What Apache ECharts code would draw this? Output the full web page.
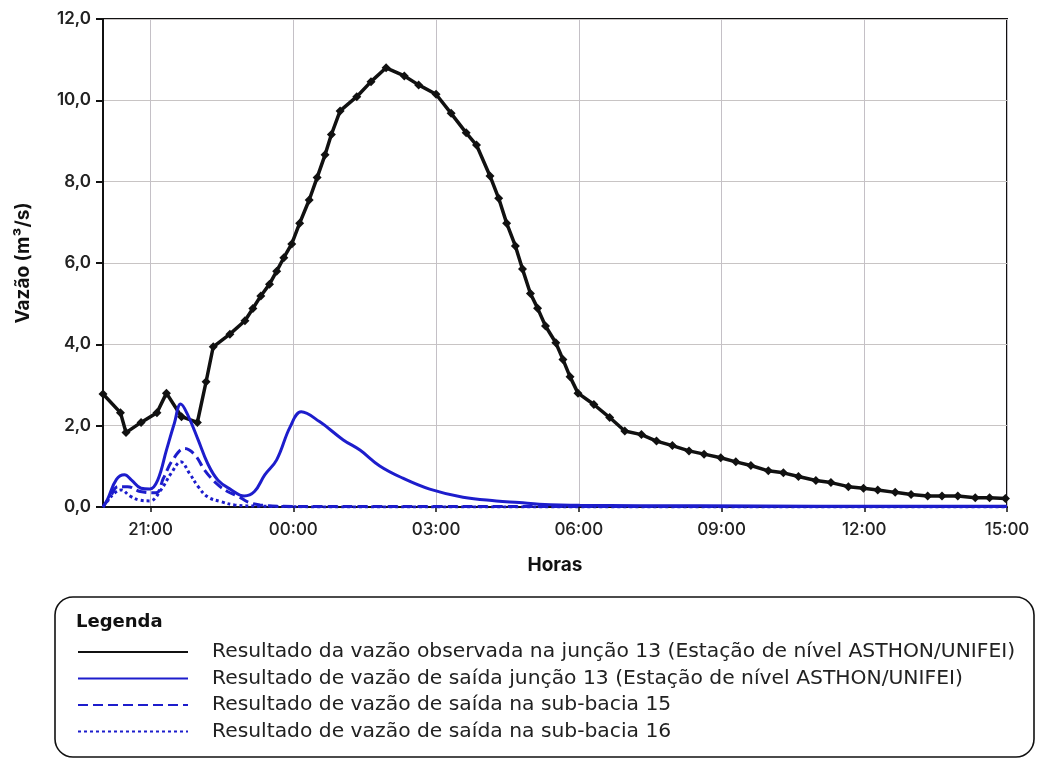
<!DOCTYPE html>
<html>
<head>
<meta charset="utf-8">
<title>Vazão – junção 13</title>
<script src="https://cdn.jsdelivr.net/npm/echarts@6/dist/echarts.min.js"></script>
<style>
  html, body { margin: 0; padding: 0; background: #fff; }
  #chart { width: 1044px; height: 766px; }
</style>
</head>
<body>
<div id="chart"></div>
<script>
// Time in minutes after 20:00 of the first day; flow in m³/s.
const obsMinutes = [0, 22, 29, 48, 68, 80, 99, 119, 130, 139, 160, 179, 189, 199, 210, 219, 228, 238, 248,
  260, 270, 280, 288, 299, 320, 338, 357, 380, 398, 420, 439, 458, 471, 488, 499, 509, 520, 529, 539, 548,
  558, 571, 580, 589, 599, 619, 639, 658, 679, 698, 718, 739, 758, 779, 798, 817, 839, 858, 877, 899, 918,
  940, 959, 977, 999, 1019, 1040, 1058, 1078, 1100, 1118, 1138];
const obsValues = [2.78, 2.32, 1.83, 2.08, 2.32, 2.80, 2.22, 2.08, 3.08, 3.94, 4.25, 4.58, 4.88, 5.19, 5.48, 5.80, 6.13, 6.47, 6.98,
  7.55, 8.10, 8.66, 9.16, 9.74, 10.09, 10.46, 10.80, 10.60, 10.38, 10.15, 9.68, 9.20, 8.90, 8.14, 7.59, 6.98, 6.42, 5.85, 5.25, 4.89,
  4.45, 4.04, 3.63, 3.20, 2.80, 2.52, 2.20, 1.87, 1.78, 1.62, 1.51, 1.38, 1.30, 1.21, 1.11, 1.02, 0.89, 0.84, 0.75, 0.65, 0.60,
  0.50, 0.46, 0.42, 0.36, 0.31, 0.27, 0.27, 0.27, 0.23, 0.23, 0.21];

const j13Minutes = [0, 6, 17, 27, 36, 48, 59, 69, 80, 90, 98, 107, 120, 132, 145, 162, 178, 191, 204, 219, 236, 250,
  273, 303, 324, 349, 378, 412, 454, 496, 525, 550, 601, 752, 900, 1140];
const j13Values = [0.0, 0.2, 0.68, 0.79, 0.66, 0.46, 0.44, 0.66, 1.40, 2.06, 2.53, 2.26, 1.65, 1.07, 0.66, 0.42, 0.27, 0.38, 0.79, 1.16, 1.97, 2.34,
  2.10, 1.65, 1.40, 1.01, 0.71, 0.44, 0.24, 0.15, 0.11, 0.07, 0.04, 0.03, 0.02, 0.02];

const sb15Minutes = [0, 9, 19, 31, 47, 67, 76, 88, 103, 116, 128, 143, 157, 170, 183, 198, 223, 300, 1140];
const sb15Values = [0.0, 0.25, 0.50, 0.50, 0.38, 0.35, 0.70, 1.16, 1.44, 1.28, 0.91, 0.58, 0.38, 0.27, 0.12, 0.05, 0.02, 0.01, 0.01];

const sb16Minutes = [0, 6, 15, 23, 34, 46, 59, 73, 86, 98, 109, 120, 132, 149, 166, 198, 300, 1140];
const sb16Values = [0.0, 0.15, 0.35, 0.42, 0.27, 0.17, 0.15, 0.42, 0.83, 1.11, 0.83, 0.50, 0.25, 0.13, 0.05, 0.02, 0.0, 0.0];

const hourTicks = [60, 240, 420, 600, 780, 960, 1140];

const seriesNames = [
  'Resultado da vazão observada na junção 13 (Estação de nível ASTHON/UNIFEI)',
  'Resultado de vazão de saída junção 13 (Estação de nível ASTHON/UNIFEI)',
  'Resultado de vazão de saída na sub-bacia 15',
  'Resultado de vazão de saída na sub-bacia 16'
];

const pair = (xs, ys) => xs.map((x, i) => [x, ys[i]]);
const clockLabel = m => {
  const h = (20 + Math.floor(m / 60)) % 24;
  const mm = m % 60;
  return String(h).padStart(2, '0') + ':' + String(mm).padStart(2, '0');
};

const FONT = 'Inter';
const LEGEND_FONT = 'DejaVu Sans';
const BLUE = '#1d1dcc';

const chart = echarts.init(document.getElementById('chart'), null, { renderer: 'canvas' });
chart.setOption({
  animation: false,
  backgroundColor: '#fff',
  textStyle: { fontFamily: FONT },
  grid: {
    left: 103, right: 37, top: 19, bottom: 259,
    show: true, borderColor: '#111', borderWidth: 2, backgroundColor: 'transparent'
  },
  title: {
    text: 'Legenda', left: 71, top: 608,
    textStyle: { fontFamily: LEGEND_FONT, fontSize: 18, fontWeight: 'bold', color: '#111' }
  },
  graphic: [{
    type: 'rect', z: -1,
    shape: { x: 55, y: 597, width: 979, height: 160, r: 18 },
    style: { fill: 'none', stroke: '#111', lineWidth: 1.6 }
  }],
  legend: {
    orient: 'vertical', left: 77, top: 642, padding: 0,
    itemWidth: 110, itemHeight: 4, itemGap: 6.5,
    itemStyle: { opacity: 0 },
    textStyle: { fontFamily: LEGEND_FONT, fontSize: 20.3, color: '#222', padding: [0, 0, 0, 19], lineHeight: 18 },
    data: seriesNames,
    selectedMode: false
  },
  xAxis: {
    type: 'value', min: 0, max: 1140,
    name: 'Horas', nameLocation: 'middle', nameGap: 49,
    nameTextStyle: { fontFamily: FONT, fontSize: 19, fontWeight: 700, color: '#111' },
    axisLine: { show: true, lineStyle: { color: '#111', width: 2 } },
    axisTick: { show: true, customValues: hourTicks, length: 5, lineStyle: { color: '#111', width: 1.5 } },
    axisLabel: {
      customValues: hourTicks, margin: 14,
      fontFamily: FONT, fontSize: 17, fontWeight: 500, color: '#222',
      formatter: v => clockLabel(v)
    },
    splitLine: { show: true, lineStyle: { color: '#c4c0c6', width: 1 } }
  },
  yAxis: {
    type: 'value', min: 0, max: 12, interval: 2,
    name: 'Vazão (m³/s)', nameLocation: 'middle', nameGap: 70, nameRotate: 90,
    nameTextStyle: { fontFamily: FONT, fontSize: 19, fontWeight: 700, color: '#111' },
    axisLine: { show: true, lineStyle: { color: '#111', width: 2 } },
    axisTick: { show: true, length: 7, lineStyle: { color: '#111', width: 2 } },
    axisLabel: {
      margin: 12, fontFamily: FONT, fontSize: 17, fontWeight: 600, color: '#222',
      formatter: v => v.toFixed(1).replace('.', ',')
    },
    splitLine: { show: true, lineStyle: { color: '#c8c4c4', width: 1 } }
  },
  series: [
    {
      name: seriesNames[0], type: 'line', data: pair(obsMinutes, obsValues),
      symbol: 'diamond', symbolSize: 9, showSymbol: true,
      lineStyle: { color: '#111', width: 3.5 }, itemStyle: { color: '#111' }, z: 3
    },
    {
      name: seriesNames[1], type: 'line', data: pair(j13Minutes, j13Values),
      symbol: 'none', smooth: 0.4,
      lineStyle: { color: BLUE, width: 3 }, itemStyle: { color: BLUE }, z: 4
    },
    {
      name: seriesNames[2], type: 'line', data: pair(sb15Minutes, sb15Values),
      symbol: 'none', smooth: 0.4,
      lineStyle: { color: BLUE, width: 3, type: [10, 5] }, itemStyle: { color: BLUE }, z: 4
    },
    {
      name: seriesNames[3], type: 'line', data: pair(sb16Minutes, sb16Values),
      symbol: 'none', smooth: 0.4,
      lineStyle: { color: BLUE, width: 3, type: [3, 3] }, itemStyle: { color: BLUE }, z: 4
    }
  ]
});
</script>
</body>
</html>
